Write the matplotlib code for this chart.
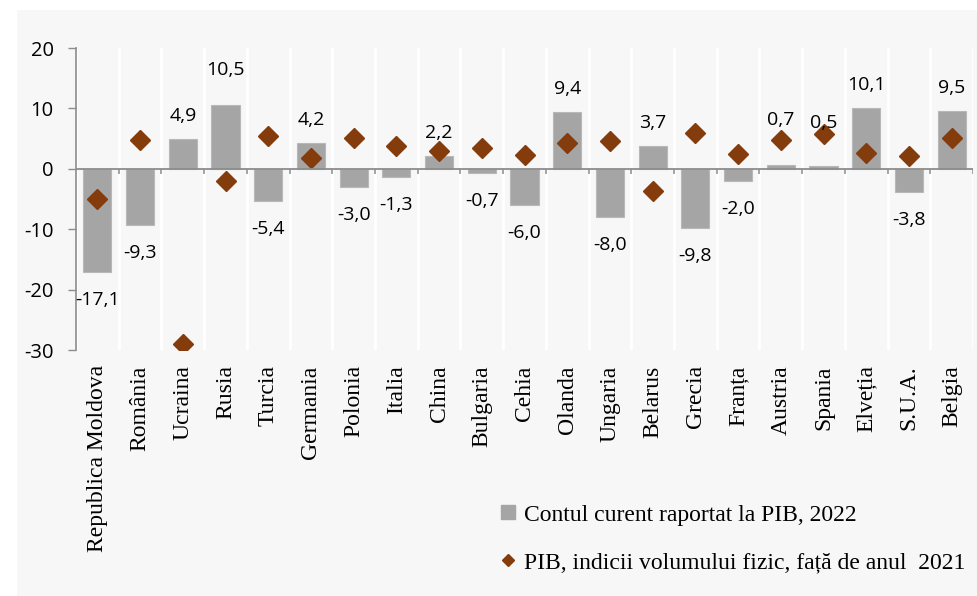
import matplotlib
matplotlib.use("Agg")
import matplotlib.pyplot as plt
from matplotlib.patches import Rectangle
from matplotlib.lines import Line2D
import numpy as np

categories = ["Republica Moldova", "România", "Ucraina", "Rusia", "Turcia", "Germania",
              "Polonia", "Italia", "China", "Bulgaria", "Cehia", "Olanda", "Ungaria",
              "Belarus", "Grecia", "Franța", "Austria", "Spania", "Elveția", "S.U.A.", "Belgia"]
current_account = [-17.1, -9.3, 4.9, 10.5, -5.4, 4.2, -3.0, -1.3, 2.2, -0.7, -6.0, 9.4,
                   -8.0, 3.7, -9.8, -2.0, 0.7, 0.5, 10.1, -3.8, 9.5]
gdp_index = [-5.0, 4.7, -29.0, -2.1, 5.5, 1.8, 5.1, 3.7, 3.0, 3.4, 2.3, 4.3, 4.6,
             -3.6, 5.9, 2.5, 4.8, 5.8, 2.6, 2.1, 5.1]
yticks = [-30, -20, -10, 0, 10, 20]

label_bar = "Contul curent raportat la PIB, 2022"
label_pt = "PIB, indicii volumului fizic, față de anul  2021"

# styling
BAR_C = "#a5a5a5"
PT_C = "#843c0c"
BG = "#f7f7f7"
SANS = ["Open Sans", "DejaVu Sans"]
SERIF = ["Liberation Serif", "DejaVu Serif"]
# label offsets in pixels (styling) – a few labels were moved in the original
label_offset_override = {"Rusia": 35, "Austria": 45, "Spania": 43}

W, H = 978, 596
fig = plt.figure(figsize=(W / 100, H / 100), dpi=100, facecolor="white")
fig.patches.append(Rectangle((17 / W, 0), 1 - 17 / W, 1 - 10 / H, transform=fig.transFigure,
                             facecolor=BG, edgecolor="none", zorder=-10))

ax = fig.add_axes([76 / W, 1 - 350 / H, (973 - 76) / W, (350 - 48) / H])
ax.set_facecolor(BG)

n = len(categories)
x = np.arange(n)
ax.bar(x, current_account, width=0.66, color=BAR_C, edgecolor="#b8b8b8", linewidth=0.8, zorder=3)
ax.plot(x, gdp_index, linestyle="none", marker="D", markersize=10.5, color=PT_C, zorder=4)

ax.set_xlim(-0.5, n - 0.5)
ax.set_ylim(-30, 20)
ax.set_yticks(yticks)
ax.set_yticklabels([str(v) for v in yticks], fontfamily=SANS, fontsize=14.5)
ax.tick_params(axis="y", length=6, width=1, color="#8c8c8c", pad=10)

ax.set_xticks(x)
ax.set_xticklabels(categories, rotation=90, fontfamily=SERIF, fontsize=17, va="top")
ax.tick_params(axis="x", length=0, pad=11)

bounds = np.arange(n + 1) - 0.5
ax.set_xticks(bounds, minor=True)
ax.tick_params(axis="x", which="minor", length=0)
ax.grid(which="minor", axis="x", color="white", linewidth=2, zorder=0)

for s in ["top", "right", "bottom"]:
    ax.spines[s].set_visible(False)
ax.spines["left"].set_color("#8c8c8c")
ax.spines["left"].set_linewidth(1.2)

ax.axhline(0, color="#8c8c8c", linewidth=1.3, zorder=5)
ax.vlines(bounds[1:], 0, -0.9, color="#8c8c8c", linewidth=1.1, zorder=5)

for i, (cat, v) in enumerate(zip(categories, current_account)):
    txt = f"{v:.1f}".replace(".", ",")
    if v >= 0:
        off = label_offset_override.get(cat, 23)
    else:
        off = -28
    ax.annotate(txt, (i, v), xytext=(0, off * 0.72), textcoords="offset points",
                ha="center", va="center", fontfamily=SANS, fontsize=14, color="black", zorder=6)

handles = [Line2D([], [], linestyle="none", marker="s", markersize=9.5, color=BAR_C),
           Line2D([], [], linestyle="none", marker="D", markersize=6.5, color=PT_C)]
fig.legend(handles, [label_bar, label_pt], loc="upper left", bbox_to_anchor=(499 / W, 1 - 504 / H),
           frameon=False, prop={"family": SERIF, "size": 17}, handlelength=0.8,
           handletextpad=0.25, labelspacing=1.12, borderpad=0, borderaxespad=0)

fig.savefig("out.png", dpi=100, facecolor=fig.get_facecolor())
